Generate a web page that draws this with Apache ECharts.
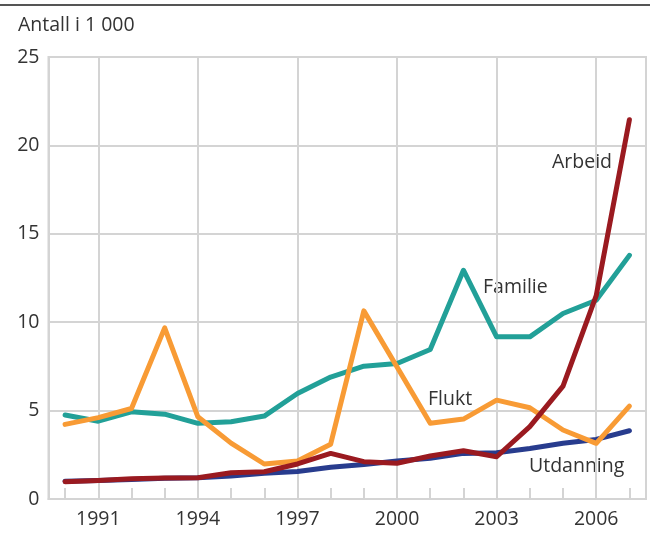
<!DOCTYPE html>
<html>
<head>
<meta charset="utf-8">
<script src="https://cdn.jsdelivr.net/npm/echarts@6/dist/echarts.min.js"></script>
<style>
  html, body { margin: 0; padding: 0; background: #fff; }
  #main { width: 650px; height: 535px; }
</style>
</head>
<body>
<div id="main"></div>
<script>
var years = ['1990', '1991', '1992', '1993', '1994', '1995', '1996', '1997', '1998',
             '1999', '2000', '2001', '2002', '2003', '2004', '2005', '2006', '2007'];
var shownYears = ['1991', '1994', '1997', '2000', '2003', '2006'];
var utdanning = [1.0, 1.05, 1.1, 1.17, 1.2, 1.3, 1.45, 1.55, 1.8, 1.95, 2.15, 2.3, 2.58, 2.62, 2.86, 3.15, 3.37, 3.86];
var familie = [4.75, 4.4, 4.93, 4.8, 4.28, 4.37, 4.69, 5.97, 6.9, 7.51, 7.66, 8.46, 12.94, 9.17, 9.17, 10.49, 11.24, 13.78];
var flukt = [4.22, 4.6, 5.12, 9.68, 4.65, 3.16, 1.98, 2.15, 3.1, 10.64, 7.47, 4.28, 4.52, 5.59, 5.16, 3.9, 3.15, 5.25];
var arbeid = [0.98, 1.05, 1.15, 1.19, 1.2, 1.49, 1.54, 1.98, 2.58, 2.11, 2.02, 2.43, 2.73, 2.39, 4.09, 6.38, 11.5, 21.45];

var gridGray = '#d4d4d4';
var textColor = '#333';
var font = '"Open Sans", "Noto Sans", sans-serif';

var chart = echarts.init(document.getElementById('main'));

function lineSeries(name, data, color) {
    return {
        name: name,
        type: 'line',
        data: data,
        symbol: 'none',
        lineStyle: { color: color, width: 5, join: 'round', cap: 'round' },
        itemStyle: { color: color },
        animation: false
    };
}

function note(text, x, y, size) {
    return {
        type: 'text', x: x, y: y,
        style: { text: text, fill: textColor, fontSize: size || 19.5, fontFamily: font, verticalAlign: 'middle' }
    };
}

var option = {
    animation: false,
    grid: {
        left: 48.5, right: 4, top: 57, bottom: 36,
        show: true, borderColor: gridGray, borderWidth: 2
    },
    xAxis: {
        type: 'category',
        data: years,
        boundaryGap: true,
        axisLine: { lineStyle: { color: gridGray, width: 2 } },
        axisTick: {
            show: true, inside: true, length: 11, alignWithLabel: true, interval: 0,
            lineStyle: { color: gridGray, width: 2 }
        },
        axisLabel: {
            interval: function (i, v) { return shownYears.indexOf(v) >= 0; },
            color: textColor, fontSize: 19.5, fontFamily: font, margin: 10
        },
        splitLine: {
            show: true, alignWithLabel: true,
            interval: function (i, v) { return shownYears.indexOf(v) >= 0; },
            lineStyle: { color: gridGray, width: 2 }
        }
    },
    yAxis: {
        type: 'value',
        min: 0, max: 25, interval: 5,
        axisLine: { show: true, lineStyle: { color: gridGray, width: 2 } },
        axisTick: { show: false },
        axisLabel: { color: textColor, fontSize: 19.5, fontFamily: font, margin: 9 },
        splitLine: { show: true, lineStyle: { color: gridGray, width: 2 } }
    },
    graphic: [
        { type: 'line', shape: { x1: 0, y1: 5, x2: 650, y2: 5 }, style: { stroke: '#555', lineWidth: 2 } },
        note('Antall i 1 000', 18, 25, 19.5),
        note('Arbeid', 552, 162),
        note('Familie', 483, 287),
        note('Flukt', 428, 399),
        note('Utdanning', 529, 466)
    ],
    series: [
        lineSeries('Utdanning', utdanning, '#283c8e'),
        lineSeries('Familie', familie, '#22a098'),
        lineSeries('Flukt', flukt, '#f89b35'),
        lineSeries('Arbeid', arbeid, '#9a1a20')
    ]
};

chart.setOption(option);
</script>
</body>
</html>
